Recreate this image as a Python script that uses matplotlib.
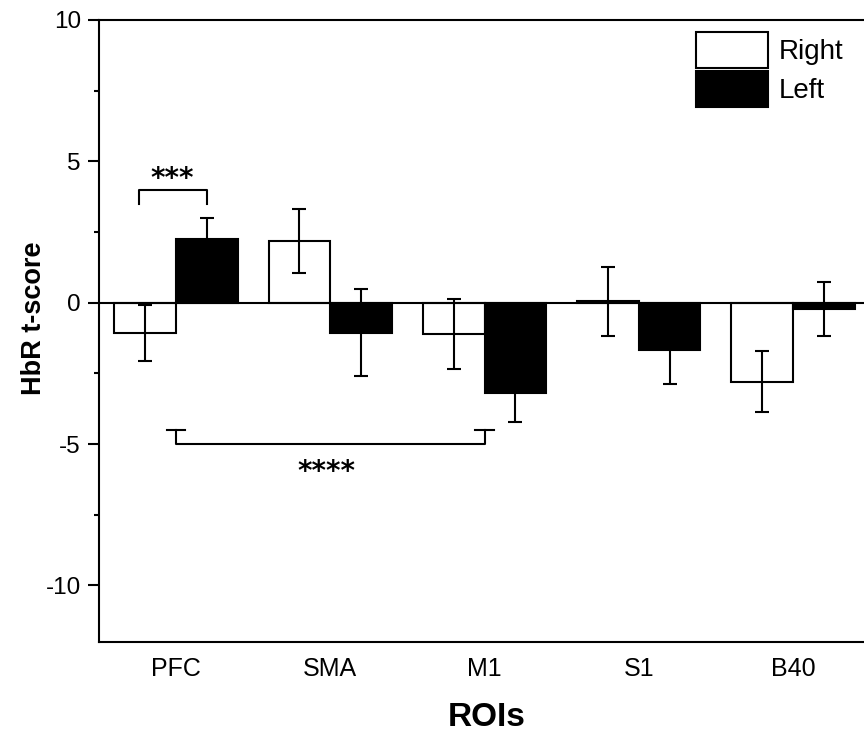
import numpy as np
import matplotlib
matplotlib.use("Agg")
import matplotlib.pyplot as plt
from matplotlib.ticker import MultipleLocator

plt.rcParams.update({"font.family": ["Liberation Sans", "DejaVu Sans"],
                     "axes.unicode_minus": False})

# values
rois = ["PFC", "SMA", "M1", "S1", "B40"]
right_mean = [-1.08, 2.18, -1.10, 0.05, -2.79]
right_err = [0.99, 1.12, 1.23, 1.22, 1.08]
left_mean = [2.24, -1.06, -3.19, -1.67, -0.23]
left_err = [0.75, 1.54, 1.02, 1.20, 0.95]

fig = plt.figure(figsize=(8.64, 7.33), dpi=100)
ax = fig.add_axes([99 / 864, 91 / 733, 771 / 864, 622 / 733])

x = np.arange(1, len(rois) + 1)
w = 0.4
lw = 1.5
ekw = dict(ecolor="black", elinewidth=lw, capsize=5, capthick=lw)
ax.bar(x - w / 2, right_mean, w, yerr=right_err, color="white",
       edgecolor="black", linewidth=lw, label="Right", error_kw=ekw)
ax.bar(x + w / 2, left_mean, w, yerr=left_err, color="black",
       edgecolor="black", linewidth=lw, label="Left", error_kw=ekw)
ax.axhline(0, color="black", lw=lw, zorder=3)

# significance brackets
ax.plot([0.76, 0.76, 1.2, 1.2], [3.5, 4.0, 4.0, 3.5], color="black", lw=lw)
ax.text(0.975, 4.38, "***", ha="center", va="center", fontsize=20,
        family="DejaVu Sans", fontweight="bold")
ax.plot([1.0, 1.0, 3.0, 3.0], [-4.5, -5.0, -5.0, -4.5], color="black", lw=lw)
ax.plot([0.94, 1.06], [-4.5, -4.5], color="black", lw=lw)
ax.plot([2.94, 3.06], [-4.5, -4.5], color="black", lw=lw)
ax.text(1.975, -5.98, "****", ha="center", va="center", fontsize=20,
        family="DejaVu Sans", fontweight="bold")

ax.set_xlim(0.5, 5.5)
ax.set_ylim(-12, 10)
ax.set_xticks(x)
ax.set_xticklabels(rois)
ax.yaxis.set_major_locator(MultipleLocator(5))
ax.yaxis.set_minor_locator(MultipleLocator(2.5))
ax.tick_params(axis="x", length=0, pad=11, labelsize=18)
ax.tick_params(axis="y", which="major", direction="out", length=8, width=lw,
               pad=5, labelsize=17.5)
ax.tick_params(axis="y", which="minor", direction="out", length=3.5, width=lw)
for s in ax.spines.values():
    s.set_linewidth(lw)

ax.set_ylabel("HbR t-score", fontsize=19.5, fontweight="bold")
ax.yaxis.set_label_coords(-0.068, 0.52)
ax.set_xlabel("ROIs", fontsize=24, fontweight="bold")
ax.xaxis.set_label_coords(0.503, -0.096)

leg = ax.legend(loc="upper left", bbox_to_anchor=(0.774, 0.981), frameon=False,
                fontsize=20, handlelength=2.6, handleheight=1.65,
                handletextpad=0.4, labelspacing=0.08, borderpad=0,
                borderaxespad=0)

fig.savefig("out.png", dpi=100)
